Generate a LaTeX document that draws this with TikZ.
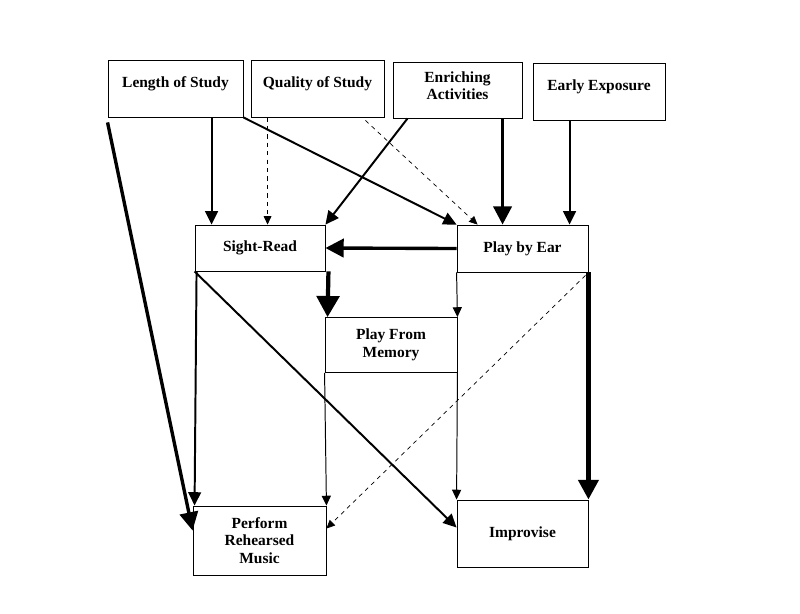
\documentclass[tikz,border=0pt]{standalone}
\usepackage{fontspec}
\setmainfont{Liberation Serif}
\usetikzlibrary{arrows.meta,calc,positioning}

\begin{document}
\begin{tikzpicture}[x=0.025cm, y=-0.025cm,
    box/.style={draw, line width=0.6pt, align=center, inner sep=2pt,
      font=\fontsize{11}{12.5}\selectfont\bfseries},
    causebox/.style={box, minimum height=1.425cm, text depth=9.5pt},
    pthin/.style={line width=0.7pt, -{Triangle[length=7pt, width=6.5pt]}},
    pdash/.style={line width=0.5pt, dashed, -{Triangle[length=6pt, width=5.5pt]}},
    pmed/.style={line width=1.4pt, -{Triangle[length=9.5pt, width=9pt]}},
    pthick/.style={line width=2.4pt, -{Triangle[length=13pt, width=13pt]}},
    pbig/.style={line width=3pt, -{Triangle[length=15pt, width=16pt]}},
    pheavy/.style={line width=3.8pt, -{Triangle[length=14pt, width=14pt]}}]
  \useasboundingbox (0,0) rectangle (800,613);

  % causes
  \node[causebox, minimum width=3.375cm] (len) at (175.5,88.5) {Length of Study};
  \node[causebox, minimum width=3.325cm] (qual) at (317.5,88.5) {Quality of Study};
  \node[causebox, minimum width=3.225cm, minimum height=1.4cm, text depth=6.5pt] (enr) at (457.5,90) {Enriching\\Activities};
  \node[causebox, minimum width=3.3cm] (early) at (599,91.5) {Early Exposure};

  % skills
  \node[box, minimum width=3.25cm, minimum height=1.15cm] (sight) at (260,248) {Sight-Read};
  \node[box, minimum width=3.275cm, minimum height=1.175cm] (ear) at (522.5,248.5) {Play by Ear};
  \node[box, minimum width=3.3cm, minimum height=1.375cm] (mem) at (391,345) {Play From\\Memory};
  \node[box, minimum width=3.325cm, minimum height=1.725cm] (perf) at (259.5,540.5) {Perform\\Rehearsed\\Music};
  \node[box, minimum width=3.275cm, minimum height=1.675cm] (impr) at (522.5,533.5) {Improvise};

  % from the causes
  \draw[pmed] ($(sight.north west |- len.south)+(17,0)$) -- ($(sight.north west)+(17,0)$);
  \draw[pdash] ($(sight.north west |- qual.south)+(73,0)$) -- ($(sight.north west)+(73,0)$);
  \draw[pmed] (len.south east) -- (ear.north west);
  \draw[pdash] ($(qual.south east)+(-19,3)$) -- ($(ear.north west)+(21,0)$);
  \draw[pmed] ($(enr.south west)+(15,0)$) -- (sight.north east);
  \draw[pthick] ($(ear.north west |- enr.south)+(46,0)$) -- ($(ear.north west)+(46,0)$);
  \draw[pmed] ($(ear.north west |- early.south)+(113,0)$) -- ($(ear.north west)+(113,0)$);
  \draw[pthick] ($(len.south west)+(0,5)$) -- ($(perf.west)+(0,-10)$);

  % between the skills
  \draw[pthick] (ear.west) -- (sight.east);
  \draw[pmed] ($(sight.south west)+(2,0)$) -- ($(perf.north west)+(2,0)$);
  \draw[pbig] ($(sight.south east)+(3,0)$) -- ($(mem.north west)+(3,0)$);
  \draw[pmed] (sight.south west) -- ($(impr.west)+(0,-6)$);
  \draw[pthin] (mem.south west) -- (perf.north east);
  \draw[pthin] (ear.south west) -- (mem.north east);
  \draw[pthin] (mem.south east) -- (impr.north west);
  \draw[pdash] ($(ear.south east)+(-3,3)$) -- ($(perf.east)+(0,-12)$);
  \draw[pheavy] (ear.south east) -- (impr.north east);
\end{tikzpicture}
\end{document}
